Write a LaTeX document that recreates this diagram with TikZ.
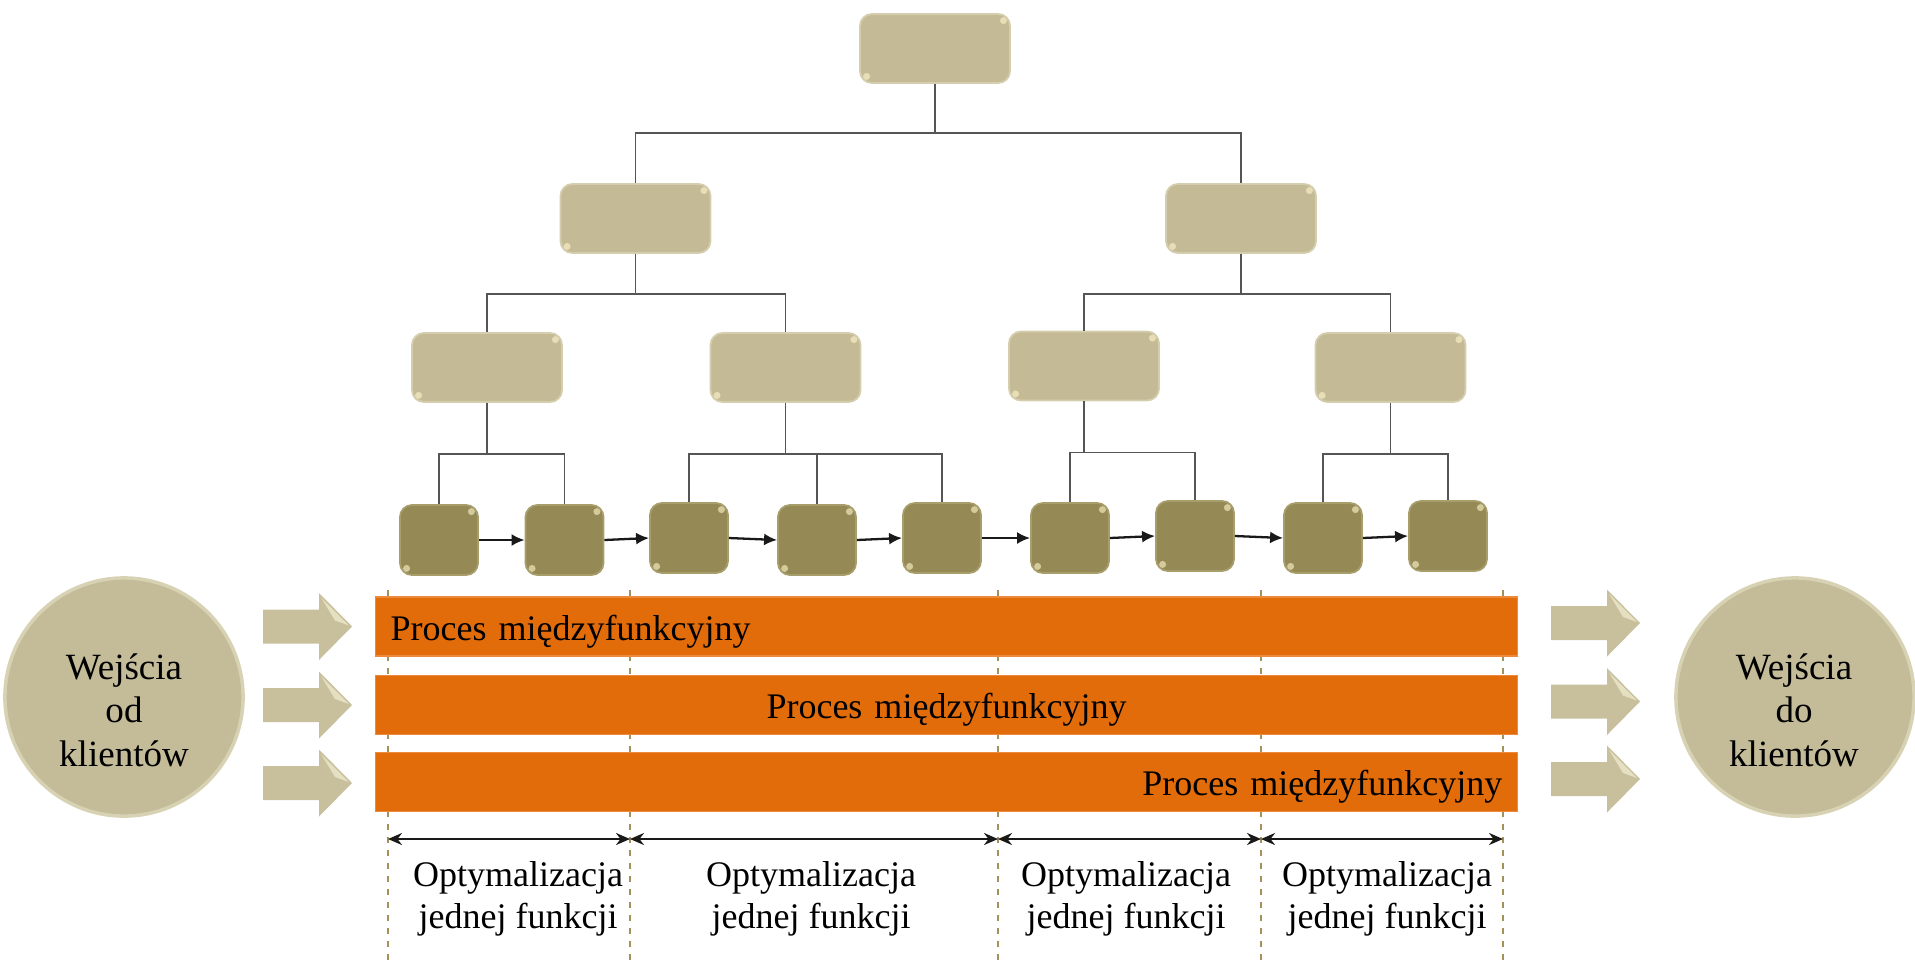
\documentclass[tikz,border=0pt]{standalone}
\usepackage{fontspec}
\setmainfont{Liberation Serif}
\usetikzlibrary{arrows.meta}
\definecolor{khaki}{HTML}{C4BB96}
\definecolor{khakiedge}{HTML}{D5CEAE}
\definecolor{olive}{HTML}{958A55}
\definecolor{oliveedge}{HTML}{A89E6C}
\definecolor{procorange}{HTML}{E36C0A}
\definecolor{orangeedge}{HTML}{EE8A3C}
\definecolor{circfill}{HTML}{C4BC98}
\definecolor{circedge}{HTML}{D8D2B4}
\definecolor{arrfill}{HTML}{C8C09D}
\definecolor{arrlight}{HTML}{E6E0C3}
\definecolor{dashcol}{HTML}{A09259}
\definecolor{treeline}{HTML}{555555}
\definecolor{glint}{HTML}{FFF6CC}
\begin{document}
\begin{tikzpicture}[x=0.01cm,y=-0.01cm,
  txt/.style={font=\fontsize{10.24}{11.95}\selectfont, text=black},
  bigbox/.style={draw=khakiedge, line width=0.5pt, fill=khaki, rounded corners=0.12cm,
    minimum width=1.5cm, minimum height=0.69cm, inner sep=0pt},
  smallbox/.style={draw=oliveedge, line width=0.5pt, fill=olive, rounded corners=0.12cm,
    minimum width=0.78cm, minimum height=0.70cm, inner sep=0pt},
  treelink/.style={draw=treeline, line width=0.5pt},
  flowarrow/.style={draw=black!90, line width=0.65pt, -{Latex[length=0.13cm,width=0.12cm]}},
  dimarrow/.style={draw=black!90, line width=0.65pt, {Stealth[length=0.14cm,width=0.12cm]}-{Stealth[length=0.14cm,width=0.12cm]}},
  dashline/.style={draw=dashcol, line width=0.5pt, dash pattern=on 0.06cm off 0.07cm},
  procbar/.style={txt, fill=procorange, draw=orangeedge, line width=0.4pt,
    minimum height=0.59cm, inner xsep=0.15cm, inner ysep=0pt, text width=11.11cm,
    text height=0.35cm, text depth=0.08cm},
  bigcirc/.style={circle, fill=circfill, draw=circedge, line width=1pt, minimum size=2.38cm, inner sep=0pt},
  circtext/.style={font=\fontsize{10.53}{12.38}\selectfont, align=center, inner sep=0pt},
  optlabel/.style={txt, align=center, inner sep=0pt},
  barrow/.pic={
    \fill[arrfill] (0,-17) -- (56,-17) -- (56,-33.5) -- (89,0) -- (56,33.5) -- (56,17) -- (0,17) -- cycle;
    \fill[arrlight] (58,-29) -- (86,-1) -- (72,-6) -- cycle;
  }
]
\useasboundingbox (0,0) rectangle (1915,960);

% ---------- tree ----------
\node[bigbox] (T) at (935,48.5) {};
\node[bigbox] (L) at (635.5,218.5) {};
\node[bigbox] (R) at (1241,218.5) {};
\node[bigbox] (A) at (487,367.5) {};
\node[bigbox] (B) at (785.5,367.5) {};
\node[bigbox] (C) at (1084,366) {};
\node[bigbox] (D) at (1390.5,367.5) {};

\node[smallbox] (b1) at (439,540) {};
\node[smallbox] (b2) at (564.5,540) {};
\node[smallbox] (b3) at (689,538) {};
\node[smallbox] (b4) at (817,540) {};
\node[smallbox] (b5) at (942,538) {};
\node[smallbox] (b6) at (1070,538) {};
\node[smallbox] (b7) at (1195,536) {};
\node[smallbox] (b8) at (1323,538) {};
\node[smallbox] (b9) at (1448,536) {};

\foreach \n in {T,L,R,A,B,C,D,b1,b2,b3,b4,b5,b6,b7,b8,b9}{
  \fill[glint, opacity=0.6] ([xshift=-0.075cm,yshift=-0.075cm]\n.north east) circle (0.035cm);
  \fill[glint, opacity=0.6] ([xshift=0.075cm,yshift=0.075cm]\n.south west) circle (0.035cm);
}

\draw[treelink] (T.south) -- ++(0,49) -| (L.north);
\draw[treelink] (T.south) -- ++(0,49) -| (R.north);
\draw[treelink] (L.south) -- ++(0,40) -| (A.north);
\draw[treelink] (L.south) -- ++(0,40) -| (B.north);
\draw[treelink] (R.south) -- ++(0,40) -| (C.north);
\draw[treelink] (R.south) -- ++(0,40) -| (D.north);
\draw[treelink] (A.south) -- ++(0,51) -| (b1.north);
\draw[treelink] (A.south) -- ++(0,51) -| (b2.north);
\draw[treelink] (B.south) -- ++(0,51) -| (b3.north);
\draw[treelink] (B.south) -- ++(0,51) -| (b4.north);
\draw[treelink] (B.south) -- ++(0,51) -| (b5.north);
\draw[treelink] (C.south) -- ++(0,51) -| (b6.north);
\draw[treelink] (C.south) -- ++(0,51) -| (b7.north);
\draw[treelink] (D.south) -- ++(0,51) -| (b8.north);
\draw[treelink] (D.south) -- ++(0,51) -| (b9.north);

\draw[flowarrow] (b1.east) -- (b2.west);
\draw[flowarrow] (b2.east) -- (b3.west);
\draw[flowarrow] (b3.east) -- (b4.west);
\draw[flowarrow] (b4.east) -- (b5.west);
\draw[flowarrow] (b5.east) -- (b6.west);
\draw[flowarrow] (b6.east) -- (b7.west);
\draw[flowarrow] (b7.east) -- (b8.west);
\draw[flowarrow] (b8.east) -- (b9.west);

% ---------- dashed division lines ----------
\foreach \i/\x in {1/388,2/630,3/998,4/1261,5/1503}{
  \coordinate (d\i) at (\x,590);
  \coordinate (e\i) at (\x,960);
  \coordinate (m\i) at (\x,839);
  \draw[dashline] (d\i) -- (e\i);
}

% ---------- process bars ----------
\node[procbar, align=left]  (p1) at (946.5,626.5) {Proces międzyfunkcyjny};
\node[procbar, align=center] (p2) at (946.5,705) {Proces międzyfunkcyjny};
\node[procbar, align=right] (p3) at (946.5,782) {Proces międzyfunkcyjny};

% ---------- block arrows ----------
\pic at (263,626.5) {barrow};
\pic at (263,705) {barrow};
\pic at (263,783) {barrow};
\pic at (1551,623) {barrow};
\pic at (1551,701.5) {barrow};
\pic at (1551,779) {barrow};

% ---------- circles ----------
\node[bigcirc] (cin) at (124,697) {};
\node[circtext] (cintext) at (124,710) {Wejścia\\od\\klientów};
\node[bigcirc] (cout) at (1795,697) {};
\node[circtext] (couttext) at (1794,710) {Wejścia\\do\\klientów};

% ---------- dimension arrows and labels ----------
\draw[dimarrow] (m1) -- (m2);
\draw[dimarrow] (m2) -- (m3);
\draw[dimarrow] (m3) -- (m4);
\draw[dimarrow] (m4) -- (m5);

\node[optlabel] (o1) at (518,899) {Optymalizacja\\jednej funkcji};
\node[optlabel] (o2) at (811,899) {Optymalizacja\\jednej funkcji};
\node[optlabel] (o3) at (1126,899) {Optymalizacja\\jednej funkcji};
\node[optlabel] (o4) at (1387,899) {Optymalizacja\\jednej funkcji};
\end{tikzpicture}
\end{document}
